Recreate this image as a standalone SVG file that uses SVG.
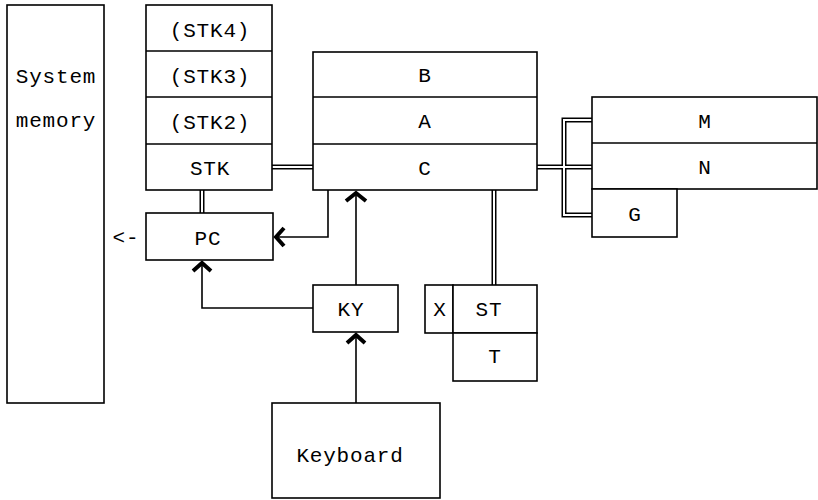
<svg xmlns="http://www.w3.org/2000/svg" width="818" height="500" viewBox="0 0 818 500">
<style>
.box{fill:#fff;stroke:#000;stroke-width:1.6}
.div{stroke:#000;stroke-width:1.6;fill:none}
.t{font-family:"Liberation Mono","Courier New",monospace;font-size:21px;letter-spacing:0.8px;fill:#000;text-anchor:middle}
.ln{fill:none;stroke:#000;stroke-width:1.6}
.dblo{fill:none;stroke:#000;stroke-width:5}
.dbli{fill:none;stroke:#fff;stroke-width:2}
.ah{fill:none;stroke:#000;stroke-width:4;stroke-linejoin:miter;stroke-linecap:butt}
</style>
<rect width="818" height="500" fill="#fff"/>
<g id="connectors">
  <path class="dblo" d="M202,190 V213 M272,167 H313 M494,190 V285 M537,167 H592 M592,120 H564 V215 H592"/>
  <path class="dbli" d="M202,190 V213 M272,167 H313 M494,190 V285 M537,167 H592 M592,120 H564 V215 H592"/>
  <polyline class="ln" points="328,190 328,237 276,237"/>
  <polyline class="ln" points="313,308 202,308 202,263"/>
  <polyline class="ln" points="356,403 356,335"/>
  <polyline class="ln" points="356,285 356,193"/>
  <polyline class="ah" points="284,228 276,237 284,246"/>
  <polyline class="ah" points="193,271 202,263 211,271"/>
  <polyline class="ah" points="347,343 356,335 365,343"/>
  <polyline class="ah" points="346,201 356,193 366,201"/>
</g>
<g id="system-memory">
  <rect class="box" x="7" y="5" width="97" height="398"/>
  <text class="t" x="56" y="83">System</text>
  <text class="t" x="56" y="127">memory</text>
</g>
<g id="stack">
  <rect class="box" x="146" y="5" width="126" height="185"/>
  <path class="div" d="M146,51 H272 M146,97 H272 M146,144 H272"/>
  <text class="t" x="210" y="37">(STK4)</text>
  <text class="t" x="210" y="83">(STK3)</text>
  <text class="t" x="210" y="129">(STK2)</text>
  <text class="t" x="210" y="175">STK</text>
</g>
<g id="pc">
  <rect class="box" x="146" y="213" width="127" height="47"/>
  <text class="t" x="208" y="245">PC</text>
  <text class="t" x="126" y="244">&lt;-</text>
</g>
<g id="registers">
  <rect class="box" x="313" y="52" width="224" height="138"/>
  <path class="div" d="M313,97 H537 M313,144 H537"/>
  <text class="t" x="425" y="82">B</text>
  <text class="t" x="425" y="128">A</text>
  <text class="t" x="425" y="175">C</text>
</g>
<g id="mn">
  <rect class="box" x="592" y="97" width="225" height="92"/>
  <path class="div" d="M592,143 H817"/>
  <text class="t" x="705" y="128">M</text>
  <text class="t" x="705" y="174">N</text>
</g>
<g id="g">
  <rect class="box" x="592" y="189" width="85" height="48"/>
  <text class="t" x="635" y="221">G</text>
</g>
<g id="ky">
  <rect class="box" x="313" y="285" width="85" height="47"/>
  <text class="t" x="351" y="316">KY</text>
</g>
<g id="x">
  <rect class="box" x="425" y="285" width="28" height="48"/>
  <text class="t" x="440" y="316">X</text>
</g>
<g id="st">
  <rect class="box" x="453" y="285" width="84" height="48"/>
  <text class="t" x="489" y="316">ST</text>
</g>
<g id="t">
  <rect class="box" x="453" y="333" width="84" height="48"/>
  <text class="t" x="495" y="363">T</text>
</g>
<g id="keyboard">
  <rect class="box" x="272" y="403" width="168" height="95"/>
  <text class="t" x="350" y="462">Keyboard</text>
</g>
</svg>
